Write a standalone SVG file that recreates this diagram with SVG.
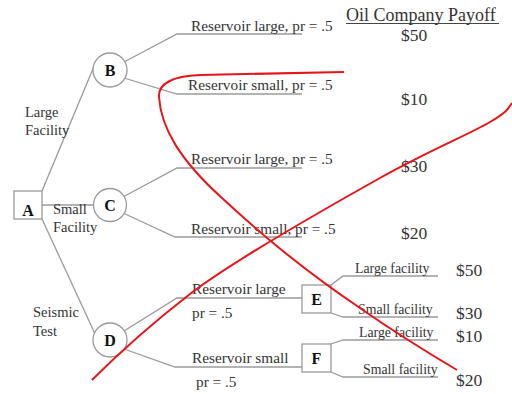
<svg xmlns="http://www.w3.org/2000/svg" width="512" height="394" viewBox="0 0 512 394">
<style>
.ln{fill:none;stroke:#9a9a9a;stroke-width:1.3}
.nd{fill:#fff;stroke:#9a9a9a;stroke-width:1.3}
.t{font-family:"Liberation Serif","Times New Roman",serif;fill:#333}
.lab{font-size:15.3px}
.side{font-size:14.5px}
.sm{font-size:13.8px}
.pay{font-size:17.5px}
.id{font-size:16px;font-weight:bold;fill:#111;text-anchor:middle}
.red{fill:none;stroke:#e8141a;stroke-width:2}
</style>
<rect width="512" height="394" fill="#fff"/>
<g id="connectors">
<path class="ln" d="M42,191 L95,64"/>
<path class="ln" d="M42,205 L93,205"/>
<path class="ln" d="M42,219 L96,336"/>
<path class="ln" d="M124,62 L177,34 L302,34"/>
<path class="ln" d="M124,78 L177,94 L302,94"/>
<path class="ln" d="M123,197 L177,168 L302,168"/>
<path class="ln" d="M123,213 L175,237 L302,237"/>
<path class="ln" d="M124,331 L177,298 L302,298"/>
<path class="ln" d="M124,349 L175,367 L302,367"/>
<path class="ln" d="M331,285 L343,276 L438,276"/>
<path class="ln" d="M331,313 L343,317 L438,317"/>
<path class="ln" d="M331,344 L343,340 L438,340"/>
<path class="ln" d="M331,372 L343,377 L438,377"/>
</g>
<g id="A"><rect class="nd" x="14" y="191" width="28" height="28"/><text class="t id" x="28" y="216">A</text></g>
<g id="B"><circle class="nd" cx="110" cy="70" r="17"/><text class="t id" x="110" y="76">B</text></g>
<g id="C"><circle class="nd" cx="110" cy="205" r="16.5"/><text class="t id" x="110" y="211">C</text></g>
<g id="D"><circle class="nd" cx="110" cy="340" r="17"/><text class="t id" x="110" y="346">D</text></g>
<g id="E"><rect class="nd" x="302" y="285" width="29" height="28"/><text class="t id" x="316.5" y="305">E</text></g>
<g id="F"><rect class="nd" x="302" y="344" width="29" height="28"/><text class="t id" x="316.5" y="364">F</text></g>
<g id="labels">
<text class="t side" x="25" y="117">Large</text>
<text class="t side" x="25" y="135">Facility</text>
<text class="t side" x="53" y="214">Small</text>
<text class="t side" x="53" y="232">Facility</text>
<text class="t side" x="33" y="317">Seismic</text>
<text class="t side" x="33" y="336">Test</text>
<text class="t lab" x="191" y="31">Reservoir large, pr = .5</text>
<text class="t lab" x="188" y="90">Reservoir small, pr = .5</text>
<text class="t lab" x="191" y="164">Reservoir large, pr = .5</text>
<text class="t lab" x="191" y="234">Reservoir small, pr = .5</text>
<text class="t lab" x="192" y="294">Reservoir large</text>
<text class="t lab" x="192" y="318">pr = .5</text>
<text class="t lab" x="192" y="363">Reservoir small</text>
<text class="t lab" x="196" y="387">pr = .5</text>
<text class="t sm" x="355" y="273">Large facility</text>
<text class="t sm" x="358" y="314">Small facility</text>
<text class="t sm" x="359" y="337">Large facility</text>
<text class="t sm" x="363" y="374">Small facility</text>
<text class="t" style="font-size:18px" x="346" y="21">Oil Company Payoff</text>
<line x1="346" y1="23.5" x2="499" y2="23.5" stroke="#444" stroke-width="1"/>
<text class="t pay" x="401" y="41">$50</text>
<text class="t pay" x="401" y="105">$10</text>
<text class="t pay" x="401" y="172">$30</text>
<text class="t pay" x="401" y="239">$20</text>
<text class="t pay" x="456" y="276">$50</text>
<text class="t pay" x="456" y="319">$30</text>
<text class="t pay" x="456" y="342">$10</text>
<text class="t pay" x="456" y="386">$20</text>
</g>
<g id="annotations">
<path class="red" d="M344,72 L200,75 C172,76 158,84 159,97 C161,128 180,160 222,198 C248,222 292,262 360,308 C400,336 430,354 457,370"/>
<path class="red" d="M92,380 C120,352 150,325 190,294 S330,206 380,178 S470,134 490,122 S508,108 512,103"/>
</g>
</svg>
